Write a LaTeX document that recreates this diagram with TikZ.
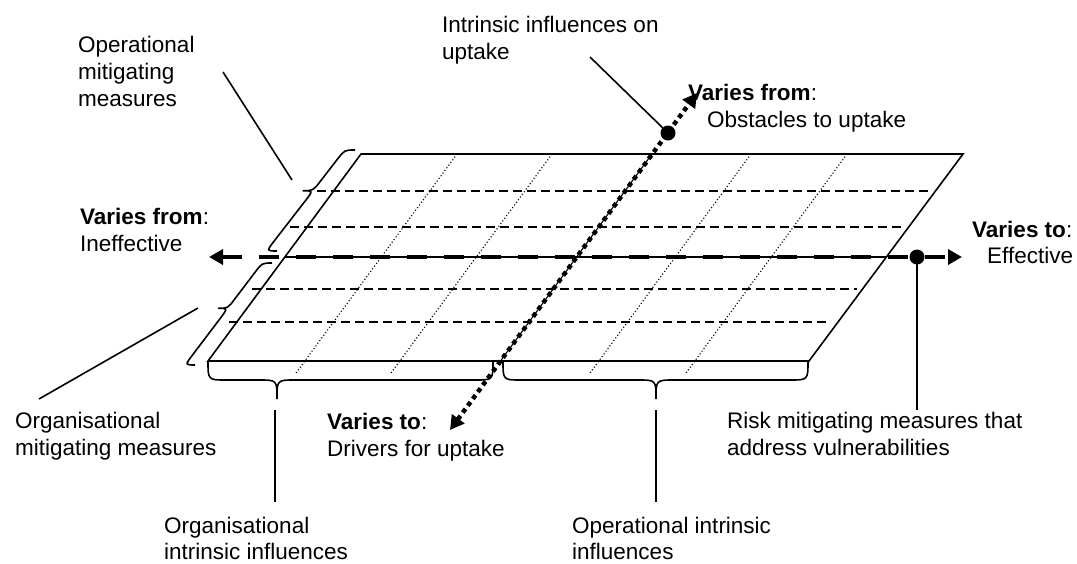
\documentclass[tikz,border=0pt]{standalone}
\usepackage{fontspec}
\setmainfont{Liberation Sans}
\usetikzlibrary{arrows.meta}
\begin{document}
\begin{tikzpicture}[x=1pt,y=-1pt,
  lbl/.style={anchor=base west, inner sep=0pt, font=\fontsize{22.5}{27}\selectfont},
  outline/.style={line width=1.6pt},
  hdash/.style={line width=1.4pt, dash pattern=on 9pt off 5pt},
  vdot/.style={line width=1.1pt, dash pattern=on 1.1pt off 2.2pt},
  bracestyle/.style={line width=1.6pt},
  leadline/.style={line width=1.6pt},
  axisline/.style={line width=1.1pt},
  bigdash/.style={line width=4pt, dash pattern=on 20pt off 17pt},
  bigdot/.style={line width=4.5pt, dash pattern=on 4.5pt off 4pt},
  arrowtips/.style={{Triangle[length=14pt,width=15pt]}-{Triangle[length=14pt,width=15pt]}},
  blob/.style={circle, fill=black, inner sep=0pt, minimum size=15pt}
]
\useasboundingbox (0,0) rectangle (1077,563);

% parallelogram
\coordinate (BL) at (208,361);
\coordinate (BR) at (809,361);
\coordinate (TR) at (963,154);
\coordinate (TL) at (361,154);

% dotted column lines
\draw[vdot] (457,154) -- (296,373);
\draw[vdot] (552,154) -- (391,373);
\draw[vdot] (751,154) -- (590,373);
\draw[vdot] (847,154) -- (686,373);

% dashed row lines
\draw[hdash] (317,191) -- (928,191);
\draw[hdash] (290,227) -- (903,227);
\draw[hdash] (252,289) -- (857,289);
\draw[hdash] (229,322) -- (830,322);

\draw[outline] (BL) -- (BR) -- (TR) -- (TL) -- cycle;

% axes
\coordinate (HL) at (285,257);
\coordinate (HR) at (887,257);
\coordinate (VB) at (500.5,361);
\coordinate (VT) at (652,154);
\draw[axisline] (HL) -- (HR);
\draw[axisline] (VB) -- (VT);

\coordinate (hA) at (209,257);
\coordinate (hB) at (962,257);
\draw[bigdash, arrowtips] (hA) -- (hB);
\coordinate (vA) at (450,430);
\coordinate (vB) at (697,93);
\draw[bigdot, arrowtips] (vA) -- (vB);

\node[blob] (dotR) at (917,257) {};
\node[blob] (dotT) at (668,133) {};

% braces
\draw[bracestyle] (277,251) .. controls (266.5,251) .. (273.8,241.5) -- (305.8,200.2) .. controls (313.1,190.7) .. (302.6,190.7) .. controls (313.1,190.7) .. (320.4,181.2) -- (337.2,159.5) .. controls (344.5,150) .. (355,150);
\draw[bracestyle] (195,365) .. controls (185,365) .. (192.2,355.4) -- (220.6,317.9) .. controls (227.8,308.3) .. (217.8,308.3) .. controls (227.8,308.3) .. (235.0,298.7) -- (254.8,272.6) .. controls (262,263) .. (272,263);
\draw[bracestyle] (208,361) .. controls (208,380) .. (226,380) -- (259,380) .. controls (277,380) .. (277,399) .. controls (277,380) .. (295,380) -- (475,380) .. controls (493,380) .. (493,361);
\draw[bracestyle] (503,361) .. controls (503,380) .. (521,380) -- (638,380) .. controls (656,380) .. (656,399) .. controls (656,380) .. (674,380) -- (790,380) .. controls (808,380) .. (808,361);

% labels (one node per line, anchored at its baseline)
\node[lbl] (opmit1) at (78,52) {Operational};
\node[lbl] (opmit2) at (78,79) {mitigating};
\node[lbl] (opmit3) at (78,106) {measures};
\node[lbl] (intr1) at (442,32) {Intrinsic influences on};
\node[lbl] (intr2) at (442,59) {uptake};
\node[lbl] (vfromT) at (688,100) {\textbf{Varies from}:};
\node[lbl] (obst) at (707,127) {Obstacles to uptake};
\node[lbl] (vfromL) at (80,224) {\textbf{Varies from}:};
\node[lbl] (ineff) at (80,251) {Ineffective};
\node[lbl] (vtoR) at (972,237) {\textbf{Varies to}:};
\node[lbl] (eff) at (987,263) {Effective};
\node[lbl] (vtoB) at (327,429) {\textbf{Varies to}:};
\node[lbl] (driv) at (327,456) {Drivers for uptake};
\node[lbl] (orgmit1) at (15,428) {Organisational};
\node[lbl] (orgmit2) at (15,455) {mitigating measures};
\node[lbl] (orgint1) at (164,533) {Organisational};
\node[lbl] (orgint2) at (164,559) {intrinsic influences};
\node[lbl] (opint1) at (572,533) {Operational intrinsic};
\node[lbl] (opint2) at (572,559) {influences};
\node[lbl] (risk1) at (727,428) {Risk mitigating measures that};
\node[lbl] (risk2) at (727,455) {address vulnerabilities};

% leader lines
\coordinate (l1a) at (292,180); \coordinate (l1b) at (223,72);
\coordinate (l2a) at (198,308); \coordinate (l2b) at (39,399);
\coordinate (l3a) at (275,410); \coordinate (l3b) at (275,502);
\coordinate (l4a) at (656,410); \coordinate (l4b) at (656,502);
\coordinate (l5b) at (917,410);
\coordinate (l6b) at (590,57);
\draw[leadline] (l1a) -- (l1b);
\draw[leadline] (l2a) -- (l2b);
\draw[leadline] (l3a) -- (l3b);
\draw[leadline] (l4a) -- (l4b);
\draw[leadline] (dotR.center) -- (l5b);
\draw[leadline] (dotT.center) -- (l6b);
\end{tikzpicture}
\end{document}
